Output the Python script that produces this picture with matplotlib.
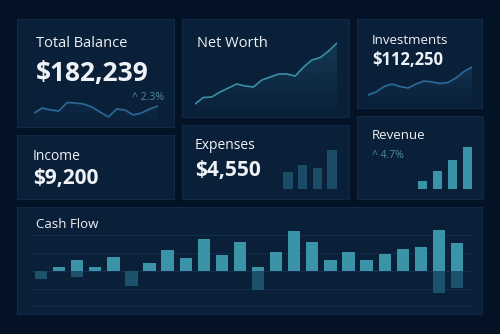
import matplotlib
matplotlib.use("Agg")
import matplotlib.pyplot as plt
from matplotlib.patches import Rectangle, Polygon
import numpy as np

plt.rcParams["font.family"] = ["Open Sans", "DejaVu Sans"]

# ---- data ----
balance_trend = [7, 12, 10, 9, 17.5, 17, 16, 13, 8, 3, 11, 10, 5, 7, 11, 14]
networth_trend = [6, 12.5, 13, 18, 22, 26, 24, 23, 30, 33, 36, 36, 34, 43, 50, 52.5, 59, 67]
invest_trend = [5, 8, 13.5, 16, 13.5, 12, 16, 19, 18, 16.5, 17.5, 22, 28.5, 33]

expenses_bars = [850, 1200, 1050, 1950]
revenue_bars = [8, 18, 29, 42]

cash_in = [0, 2.3, 6.2, 2.3, 7.9, 0, 4.5, 11.8, 7.3, 18, 9, 16.3,
           2.3, 10.7, 22.5, 16.3, 6.2, 10.7, 6.2, 9.6, 12.4, 13.5, 23.1, 15.8]
cash_out = [-4.5, 0, -3.4, 0, 0, -8.5, 0, 0, 0, 0, 0, 0,
            -10.7, 0, 0, 0, 0, 0, 0, 0, 0, 0, -12.4, -9.6]
cash_grid = [-20, -10, 0, 10, 20]

# ---- colours ----
BG = "#041226"
PANEL = "#0a2039"
EDGE = "#0f2946"
TEXT = "#eef2f6"
MUTED = "#4e8c9c"
LINE_BLUE = "#2a6b98"
LINE_TEAL = "#3a8fa8"
BAR_DARK = "#1b4b66"
BAR_TEAL = "#3a93a7"
NEG = "#1d526d"

W, H = 500, 334
fig = plt.figure(figsize=(5, 3.34), dpi=100, facecolor=BG)


def px_axes(x0, y0, x1, y1):
    ax = fig.add_axes([x0 / W, 1 - y1 / H, (x1 - x0) / W, (y1 - y0) / H])
    ax.set_facecolor("none")
    ax.set_axis_off()
    return ax


def panel(x0, y0, x1, y1):
    fig.add_artist(Rectangle((x0 / W, 1 - y1 / H), (x1 - x0) / W, (y1 - y0) / H,
                             transform=fig.transFigure, facecolor=PANEL,
                             edgecolor=EDGE, linewidth=0.8, zorder=0))


def label(x, y, s, size, bold=False, color=TEXT):
    fig.text(x / W, 1 - y / H, s, fontsize=size, color=color, va="baseline",
             ha="left", fontweight="bold" if bold else "normal")


def sparkline(ax, values, color, lo, hi, fill_alpha):
    x = np.arange(len(values))
    ax.set_xlim(0, len(values) - 1)
    ax.set_ylim(lo, hi)
    verts = [(0, lo)] + list(zip(x, values)) + [(x[-1], lo)]
    poly = Polygon(verts, closed=True, facecolor="none", edgecolor="none")
    ax.add_patch(poly)
    grad = np.zeros((100, 2, 4))
    grad[..., :3] = matplotlib.colors.to_rgb(color)
    grad[..., 3] = np.linspace(fill_alpha, 0, 100)[:, None]
    im = ax.imshow(grad, extent=(0, len(values) - 1, lo, max(values)),
                   aspect="auto", origin="upper", zorder=1)
    im.set_clip_path(poly)
    ax.plot(x, values, color=color, linewidth=1.2, solid_joinstyle="round",
            solid_capstyle="round", zorder=2)


# panels
panel(17, 19, 174, 127)
panel(182, 19, 349, 117)
panel(357, 19, 482, 108)
panel(17, 135, 174, 199)
panel(182, 125, 349, 199)
panel(357, 116, 483, 199)
panel(17, 207, 482, 314)

# Total Balance
label(36, 47, "Total Balance", 10.5)
label(36, 81, "$182,239", 19, bold=True)
label(132, 100, "^ 2.3%", 7.5, color=MUTED)
ax = px_axes(34, 90, 158, 127)
sparkline(ax, balance_trend, LINE_BLUE, -7, 30, 0.12)

# Net Worth
label(197, 47, "Net Worth", 10.5)
ax = px_axes(195, 38, 337, 117)
sparkline(ax, networth_trend, LINE_TEAL, -7, 72, 0.22)

# Investments
label(372, 44, "Investments", 9.5)
label(372, 65, "$112,250", 12, bold=True)
ax = px_axes(368, 60, 472, 108)
sparkline(ax, invest_trend, LINE_BLUE, -8, 40, 0.22)

# Income
label(33, 160, "Income", 10)
label(33, 184, "$9,200", 15, bold=True)

# Expenses
label(195, 149, "Expenses", 10)
label(195, 176, "$4,550", 15, bold=True)
ax = px_axes(280.5, 140, 339.5, 189)
ax.bar(range(len(expenses_bars)), expenses_bars, width=0.65, color=BAR_DARK)
ax.set_xlim(-0.5, len(expenses_bars) - 0.5)
ax.set_ylim(0, 2450)

# Revenue
label(372, 139, "Revenue", 9.5)
label(372, 158, "^ 4.7%", 7.5, color=MUTED)
ax = px_axes(415.5, 140, 474.5, 189)
ax.bar(range(len(revenue_bars)), revenue_bars, width=0.62, color=BAR_TEAL)
ax.set_xlim(-0.5, len(revenue_bars) - 0.5)
ax.set_ylim(0, 49)

# Cash Flow
label(36, 228, "Cash Flow", 9.5)
ax = fig.add_axes([32 / W, 1 - 312 / H, (472 - 32) / W, (312 - 217) / H])
ax.set_facecolor("none")
for s in ax.spines.values():
    s.set_visible(False)
idx = np.arange(len(cash_in))
ax.bar(idx, cash_out, width=0.68, color=NEG, zorder=2)
ax.bar(idx, cash_in, width=0.68, color=BAR_TEAL, zorder=3)
ax.set_xlim(-0.5, 23.83)
ax.set_ylim(-23.1, 30.4)
ax.set_yticks(cash_grid)
ax.set_xticks([])
ax.tick_params(left=False, labelleft=False)
ax.grid(axis="y", color="#122d4b", linewidth=0.8, zorder=0)
ax.set_axisbelow(True)

fig.savefig("out.png", dpi=100, facecolor=BG)
